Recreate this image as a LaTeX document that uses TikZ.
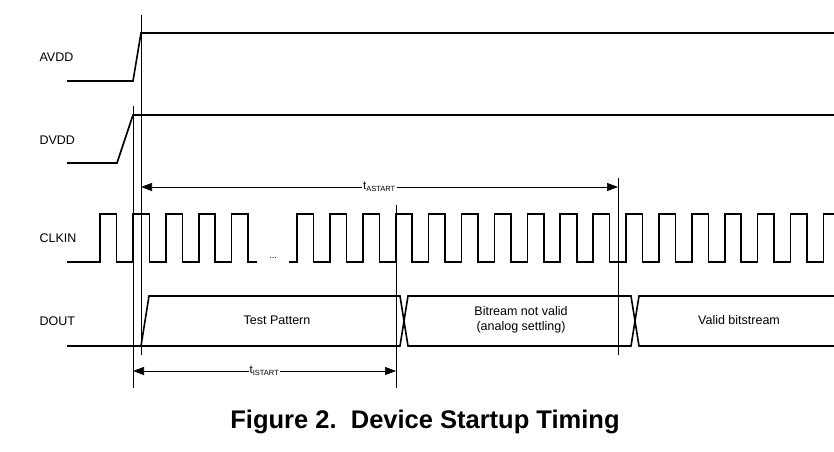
\documentclass[tikz,border=0pt]{standalone}
\usepackage{fontspec}
\setmainfont{Liberation Sans}
\usepackage{tikz}
\usetikzlibrary{arrows.meta, positioning, calc}

\tikzset{
  sig/.style={line width=1.6pt, line join=miter},
  markline/.style={line width=0.8pt},
  dimline/.style={line width=0.7pt, {Triangle[length=11pt,width=8pt]}-{Triangle[length=11pt,width=8pt]}},
  signame/.style={anchor=west, font=\fontsize{12.5}{14}\selectfont},
  tlabel/.style={fill=white, inner sep=1pt, font=\fontsize{11.5}{13}\selectfont},
  boxtext/.style={font=\fontsize{12.5}{15}\selectfont, align=center}
}

\begin{document}
\begin{tikzpicture}[x=1pt, y=-1pt]
        \useasboundingbox (0,0) rectangle (834,451);

        % Signal names
        \node (avdd) [signame] at (36,57) {AVDD};
        \node (dvdd) [signame] at (36,140) {DVDD};
        \node (clkin) [signame] at (36,238) {CLKIN};
        \node (dout) [signame] at (36,321) {DOUT};

        % Supplies
        \draw[sig] (67,81) -- (133,81) -- (141,33) -- (834,33);
        \draw[sig] (67,163) -- (117,163) -- (133,115) -- (834,115);

        % Clock
        \draw[sig] (67,262) foreach \k in {0,...,4} {
            -- ({100+32.9*\k},262) -- ++(0,-48) -- ++(16.5,0) -- ++(0,48)} -- (257,262);
        \node (dots) at (273,258) {\fontsize{9}{9}\selectfont ...};
        \draw[sig] (289,262) foreach \k in {0,...,15} {
            -- ({297+32.9*\k},262) -- ++(0,-48) -- ++(16.5,0) -- ++(0,48)} -- (823.4,262) -- ++(0,-48) -- (834,214);

        % Data out
        \draw[sig] (67,346) -- (141,346) -- (149,296) -- (400,296) -- (408,346) -- (631,346) -- (639,296) -- (834,296);
        \draw[sig] (141,346) -- (400,346) -- (408,296) -- (631,296) -- (639,346) -- (834,346);
        \node (test) [boxtext] at (277,320) {Test Pattern};
        \node (notvalid) [boxtext] at (521,320) {Bitream not valid\\(analog settling)};
        \node (valid) [boxtext] at (739,320) {Valid bitstream};

        % Timing marks
        \draw[markline] (141,15) -- (141,355);
        \draw[markline] (133,106) -- (133,388);
        \draw[markline] (396,205) -- (396,388);
        \draw[markline] (618,178) -- (618,355);

        % Intervals
        \coordinate (astart-l) at (141,187);
        \coordinate (astart-r) at (618,187);
        \coordinate (istart-l) at (133,371);
        \coordinate (istart-r) at (396,371);
        \draw[dimline] (astart-l) -- node[tlabel] {t\textsubscript{\fontsize{7.5}{7.5}\selectfont ASTART}} (astart-r);
        \draw[dimline] (istart-l) -- node[tlabel] {t\textsubscript{\fontsize{7.5}{7.5}\selectfont ISTART}} (istart-r);

        % Caption
        \node (caption) at (425,422) {\fontsize{25.5}{30}\selectfont\bfseries Figure 2.\ \ Device Startup Timing};
    \end{tikzpicture}
\end{document}
